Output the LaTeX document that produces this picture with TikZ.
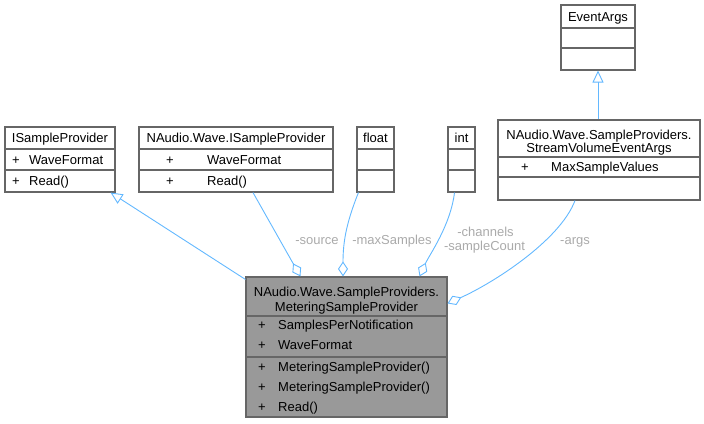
\documentclass[tikz,border=0pt]{standalone}
\usepackage{fontspec}
\setmainfont{Liberation Sans}
\usetikzlibrary{arrows.meta}
\definecolor{edgec}{HTML}{63B8FF}
\definecolor{bord}{HTML}{666666}
\definecolor{mainfill}{HTML}{999999}
\definecolor{lblc}{HTML}{AAAAAA}
\begin{document}
\begin{tikzpicture}[x=1pt,y=-1pt,font=\fontsize{13}{15}\selectfont,
  cls/.style={draw=bord,line width=1.1pt,fill=white,inner sep=0pt,rectangle},
  sepl/.style={draw=bord,line width=1.1pt},
  txt/.style={anchor=base,inner sep=0pt},
  mem/.style={anchor=base west,inner sep=0pt},
  conn/.style={draw=edgec,line width=0.9pt},
  agg/.style={conn,-{Diamond[fill=white,length=15pt,width=10pt]}},
  inh/.style={conn,-{Triangle[fill=white,length=12pt,width=11pt]}},
  lab/.style={text=lblc,inner sep=0pt,anchor=base}]
\useasboundingbox (0,0) rectangle (704,423);

% boxes
\node[cls,minimum width=110pt,minimum height=65pt] (isp) at (60,159.5) {};
\node[cls,minimum width=194pt,minimum height=65pt] (nisp) at (236,159.5) {};
\node[cls,minimum width=37pt,minimum height=65pt] (flt) at (375.5,159.5) {};
\node[cls,minimum width=27pt,minimum height=65pt] (intb) at (461.5,159.5) {};
\node[cls,minimum width=202pt,minimum height=80pt] (sve) at (599,160) {};
\node[cls,minimum width=74pt,minimum height=65pt] (ea) at (598,37.5) {};
\node[cls,fill=mainfill,minimum width=201pt,minimum height=140pt] (main) at (346.5,347) {};

% separators
\foreach \b in {isp,nisp,flt,intb}{
  \draw[sepl] (\b.west |- 0,149) -- (\b.east |- 0,149);
  \draw[sepl] (\b.west |- 0,170) -- (\b.east |- 0,170);
}
\draw[sepl] (sve.west |- 0,157) -- (sve.east |- 0,157);
\draw[sepl] (sve.west |- 0,177) -- (sve.east |- 0,177);
\draw[sepl] (ea.west |- 0,28) -- (ea.east |- 0,28);
\draw[sepl] (ea.west |- 0,48) -- (ea.east |- 0,48);
\draw[sepl] (main.west |- 0,316) -- (main.east |- 0,316);
\draw[sepl] (main.west |- 0,357) -- (main.east |- 0,357);

% texts
\node[txt] (ispT) at (60,142.5) {ISampleProvider};
\node[txt] (ispP1) at (16,164) {+};
\node[mem] (ispA) at (29,164) {WaveFormat};
\node[txt] (ispP2) at (16,185.5) {+};
\node[mem] (ispM) at (29,185.5) {Read()};

\node[txt] (nispT) at (236,142.5) {NAudio.Wave.ISampleProvider};
\node[txt] (nispP1) at (170,164) {+};
\node[mem] (nispA) at (207,164) {WaveFormat};
\node[txt] (nispP2) at (170,185.5) {+};
\node[mem] (nispM) at (207,185.5) {Read()};

\node[txt] (fltT) at (375.5,142.5) {float};
\node[txt] (intT) at (461.5,142.5) {int};
\node[txt] (eaT) at (598,21) {EventArgs};

\node[txt] (sveT1) at (599,139.5) {NAudio.Wave.SampleProviders.};
\node[txt] (sveT2) at (599,152.5) {StreamVolumeEventArgs};
\node[txt] (sveP) at (525,171.5) {+};
\node[mem] (sveA) at (551,171.5) {MaxSampleValues};

\node[txt] (mainT1) at (346.5,296.5) {NAudio.Wave.SampleProviders.};
\node[txt] (mainT2) at (346.5,311.5) {MeteringSampleProvider};
\node[txt] (mP1) at (262,329.5) {+};
\node[mem] (mA1) at (278,329.5) {SamplesPerNotification};
\node[txt] (mP2) at (262,349.5) {+};
\node[mem] (mA2) at (278,349.5) {WaveFormat};
\node[txt] (mP3) at (262,371.5) {+};
\node[mem] (mM1) at (278,371.5) {MeteringSampleProvider()};
\node[txt] (mP4) at (262,391.5) {+};
\node[mem] (mM2) at (278,391.5) {MeteringSampleProvider()};
\node[txt] (mP5) at (262,411.5) {+};
\node[mem] (mM3) at (278,411.5) {Read()};

% connectors
\draw[inh] ([yshift=-3pt]main.north west) -- ([xshift=-5pt]isp.south east);
\draw[inh] (ea.south |- sve.north) -- (ea.south);
\draw[agg] ([xshift=17pt]nisp.south) -- ([xshift=55pt]main.north west);
\draw[agg] ([xshift=2pt]flt.south west) .. controls +(-12,30) and +(0,-35) .. ([xshift=-3.5pt]main.north);
\draw[agg] ([xshift=-7pt]intb.south) .. controls +(-4,33) and +(10,-22) .. ([xshift=-28pt]main.north east);
\draw[agg] ([xshift=-24pt]sve.south) .. controls +(-15,40) and +(45,-20) .. ([yshift=-27pt]main.north east);

% labels
\node[lab] (lsrc) at (317,244.5) {-source};
\node[lab] (lmax) at (392,244.5) {-maxSamples};
\node[lab] (lch) at (485.5,236.5) {-channels};
\node[lab] (lsc) at (484.5,250.5) {-sampleCount};
\node[lab] (largs) at (575,244.5) {-args};
\end{tikzpicture}
\end{document}
